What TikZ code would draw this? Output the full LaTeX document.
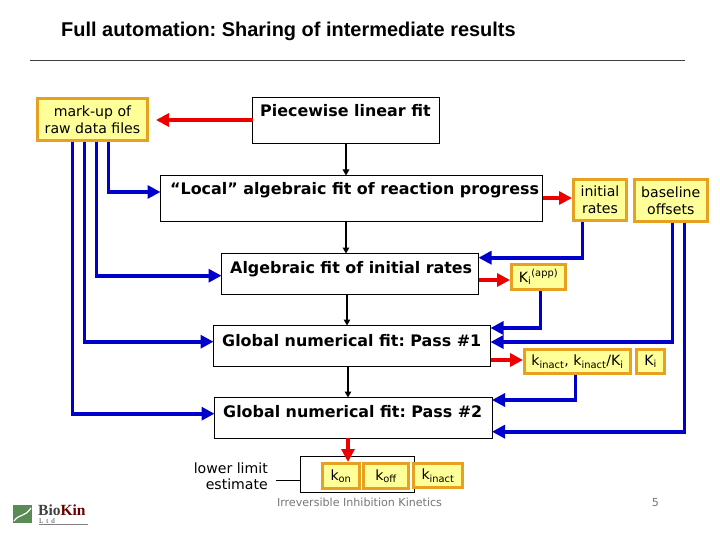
\documentclass[tikz,border=0pt]{standalone}
\usepackage{fontspec}
\setmainfont{DejaVu Sans}
\newfontfamily\titlefont{Liberation Sans}
\newfontfamily\logofont{Liberation Serif}
\usetikzlibrary{arrows.meta}
\frenchspacing
\definecolor{boxyellow}{HTML}{FFFF99}
\definecolor{boxorange}{HTML}{E8A020}
\definecolor{flowblue}{HTML}{0000CC}
\definecolor{flowred}{HTML}{EE0000}
\definecolor{foot}{HTML}{777777}
\definecolor{logogreen}{HTML}{5A8A55}
\tikzset{
  x=1pt,y=-1pt,
  fitbox/.style={draw=black,line width=1pt,fill=white,rectangle,anchor=north west,inner sep=0pt,outer sep=0pt,minimum width=#1},
  fittext/.style={font=\fontsize{15.9}{18}\selectfont\bfseries,anchor=base west,inner sep=0pt},
  res/.style={draw=boxorange,line width=3pt,fill=boxyellow,rectangle,anchor=north west,inner sep=0pt,outer sep=1.5pt,align=center,font=\fontsize{14.1}{16.8}\selectfont},
  blueflow/.style={draw=flowblue,line width=3.6pt,line join=miter,-{Triangle[length=13pt,width=13pt]}},
  redthick/.style={draw=flowred,line width=3.4pt,-{Triangle[length=13pt,width=13pt]}},
  seqarrow/.style={draw=black,line width=1.6pt,-{Triangle[length=6pt,width=6.5pt]}},
  plain/.style={font=\fontsize{14.1}{16.8}\selectfont,align=right,inner sep=0pt},
  footer/.style={font=\fontsize{11.1}{13}\selectfont,text=foot,inner sep=0pt},
}
\newcommand{\fitnode}[5]{\node[fitbox=#4pt-#2pt,minimum height=#5pt-#3pt] (#1) at (#2,#3) {};}
\newcommand{\resnode}[6]{\node[res,minimum width=#4pt-#2pt-3pt,minimum height=#5pt-#3pt-3pt] (#1) at (#2,#3) {#6};}
\begin{document}
\begin{tikzpicture}
\useasboundingbox (0,0) rectangle (720,540);
\fill[white] (0,0) rectangle (720,540);
\node[font=\titlefont\bfseries\fontsize{19.95}{22}\selectfont,anchor=base west,inner sep=0pt] (title) at (61,36.8) {Full automation: Sharing of intermediate results};
\coordinate (ruleL) at (30,60.5); \coordinate (ruleR) at (685,60.5);
\draw[black!75,line width=0.8pt] (ruleL) -- (ruleR);

\fitnode{piece}{252.5}{97.5}{439}{144}
\fitnode{local}{160.5}{175.5}{542.5}{222}
\fitnode{alg}{221.5}{253.5}{478.5}{294.5}
\fitnode{pone}{213.5}{325.5}{490.5}{366}
\fitnode{ptwo}{214.5}{397.5}{492}{438}
\fitnode{est}{300.5}{456.5}{414.5}{492.5}
\node[fittext] (tpiece) at (260,117) {Piecewise linear fit};
\node[fittext] (tlocal) at (170,195) {“Local” algebraic fit of reaction progress};
\node[fittext] (talg) at (230,273) {Algebraic fit of initial rates};
\node[fittext] (tpone) at (222,346) {Global numerical fit: Pass \#1};
\node[fittext] (tptwo) at (223,417) {Global numerical fit: Pass \#2};

\resnode{markup}{36}{97}{149}{142}{mark-up of\\raw data files}
\resnode{init}{572}{178}{628}{222}{initial\\rates}
\resnode{base}{632.5}{178}{709}{223}{baseline\\offsets}
\resnode{kapp}{510}{263}{567}{291}{K\textsubscript{i}\textsuperscript{(app)}}
\resnode{kin}{523}{348}{632}{375}{k\textsubscript{inact}, k\textsubscript{inact}/K\textsubscript{i}}
\resnode{ki}{635}{348}{666}{375}{K\textsubscript{i}}
\resnode{kon}{321}{462}{361}{490}{k\textsubscript{on}}
\resnode{koff}{362}{462}{410}{490}{k\textsubscript{off}}
\resnode{kinb}{412}{462}{464}{489}{k\textsubscript{inact}}

\node[plain,anchor=east] (low) at (268,476.2) {lower limit\\estimate};
\coordinate (lowend) at (276,480);
\draw[black,line width=0.8pt] (lowend) -- (est.west |- lowend);

% sequence
\draw[seqarrow] (piece.south -| 346,0) -- (local.north -| 346,0);
\draw[seqarrow] (local.south -| 346,0) -- (alg.north -| 346,0);
\draw[seqarrow] (alg.south -| 347,0) -- (pone.north -| 347,0);
\draw[seqarrow] (pone.south -| 348,0) -- (ptwo.north -| 348,0);

% results
\coordinate (markarrow) at (156,120);
\draw[redthick] (piece.west |- markarrow) -- (markarrow);
\draw[redthick] (local.east |- 0,198) -- (init.west |- 0,198);
\draw[redthick] (alg.east |- 0,280) -- (kapp.west |- 0,280);
\draw[redthick] (pone.east |- 0,360) -- (kin.west |- 0,360);
\draw[redthick] (ptwo.south -| 348,0) -- (kon.north -| 348,0);

% inputs from the left
\draw[blueflow] (markup.south -| 108.5,0) |- (local.west |- 0,192);
\draw[blueflow] (markup.south -| 96.5,0) |- (alg.west |- 0,275.7);
\draw[blueflow] (markup.south -| 84.5,0) |- (pone.west |- 0,341.7);
\draw[blueflow] (markup.south -| 72.5,0) |- (ptwo.west |- 0,413.7);

% inputs from the right
\draw[blueflow] (init.south -| 582.3,0) |- (alg.east |- 0,257.7);
\draw[blueflow] (kapp.south -| 540.3,0) |- (pone.east |- 0,328);
\draw[blueflow] (base.south -| 672.3,0) |- (pone.east |- 0,342);
\draw[blueflow] (kin.south -| 575.3,0) |- (ptwo.east |- 0,400);
\draw[blueflow] (base.south -| 684.3,0) |- (ptwo.east |- 0,431.7);

\node[footer,anchor=base] (ftr) at (359.5,506.5) {Irreversible Inhibition Kinetics};
\node[footer,anchor=base] (pg) at (655.5,506.5) {5};

% logo
\fill[logogreen] (13,505) rectangle (32,523);
\draw[white,line width=1.2pt] (14,521) .. controls (20,513) and (24,518) .. (31,508);
\node[font=\logofont\bfseries\fontsize{15.5}{16}\selectfont,anchor=base west,inner sep=0pt,text=black!75] (logo) at (38,515) {Bio\textcolor{red!40!black}{Kin}};
\node[font=\logofont\fontsize{7}{7}\selectfont,anchor=base west,inner sep=0pt,text=black!75] (ltd) at (39,523) {L\hspace{3pt}t\hspace{3pt}d};
\draw[black!50,line width=0.6pt] (39,524.5) -- (88,524.5);
\end{tikzpicture}
\end{document}
